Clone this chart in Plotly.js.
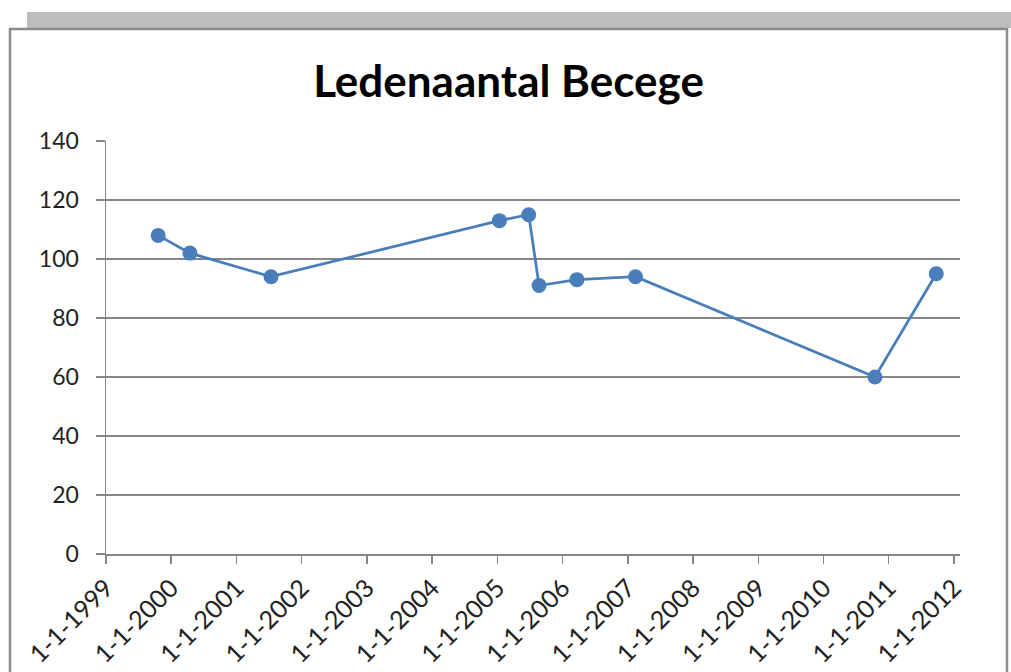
<!DOCTYPE html>
<html>
<head>
<meta charset="utf-8">
<script src="https://cdn.plot.ly/plotly-3.0.1.min.js"></script>
<style>
html,body{margin:0;padding:0;background:#fff;}
#chart{width:1011px;height:672px;}
</style>
</head>
<body>
<div id="chart"></div>
<script>
// Data
const dates = ['1999-10-20','2000-04-15','2001-07-13','2005-01-12','2005-06-25','2005-08-22','2006-03-22','2007-02-13','2010-10-16','2011-09-24'];
const members = [108, 102, 94, 113, 115, 91, 93, 94, 60, 95];
const tickYears = [1999,2000,2001,2002,2003,2004,2005,2006,2007,2008,2009,2010,2011,2012];
const tickDates = tickYears.map(y => y + '-01-01');
const tickLabels = tickYears.map(y => '1-1-' + y);
const yTicks = [0,20,40,60,80,100,120,140];

const W = 1011, H = 672;
const L = 106, R = 51, T = 141, B = 118;
const pw = W - L - R, ph = H - T - B;
const px = v => (v - L) / pw;
const py = v => (H - B - v) / ph;

const trace = {
  x: dates, y: members, type: 'scatter', mode: 'lines+markers',
  line: {color: '#4A7EBB', width: 2.75},
  marker: {color: '#4A7EBB', size: 15},
  hoverinfo: 'x+y', showlegend: false
};

const layout = {
  width: W, height: H,
  margin: {l: L, r: R, t: T, b: B, pad: 0},
  paper_bgcolor: '#fff', plot_bgcolor: 'rgba(0,0,0,0)',
  title: {text: '<b>Ledenaantal Becege</b>', font: {family: 'Lato, sans-serif', size: 44, color: '#000'},
          x: 0.503, xanchor: 'center', y: 1 - 82/H, yanchor: 'middle'},
  font: {family: 'Lato, sans-serif', size: 22, color: '#222'},
  xaxis: {
    type: 'date', range: ['1999-01-01', '2012-02-04'],
    tickvals: tickDates, ticktext: tickLabels, tickangle: -45,
    ticks: 'outside', ticklen: 8, tickcolor: '#868686', tickwidth: 1.5,
    showline: true, linecolor: '#868686', linewidth: 1.5,
    showgrid: false, zeroline: false, fixedrange: true,
    tickfont: {family: 'Lato, sans-serif', size: 25, color: '#222'}
  },
  yaxis: {
    range: [0, 140], tickvals: yTicks, ticktext: yTicks.map(String),
    ticks: 'outside', ticklen: 9, tickcolor: '#868686', tickwidth: 1.5,
    showline: true, linecolor: '#868686', linewidth: 1.5,
    showgrid: true, gridcolor: '#868686', gridwidth: 1.5,
    zeroline: false, fixedrange: true, ticklabelstandoff: 12,
    tickfont: {family: 'Lato, sans-serif', size: 23, color: '#222'}
  },
  shapes: [
    {type: 'rect', xref: 'paper', yref: 'paper', layer: 'below',
     x0: px(27), x1: px(1011), y0: py(12), y1: py(28),
     fillcolor: '#bdbdbd', line: {width: 0}},
    {type: 'rect', xref: 'paper', yref: 'paper', layer: 'below',
     x0: px(10), x1: px(1007), y0: py(29), y1: py(680),
     fillcolor: 'rgba(0,0,0,0)', line: {color: '#8c8c8c', width: 2.5}}
  ]
};

Plotly.newPlot('chart', [trace], layout, {displayModeBar: false, staticPlot: true});
</script>
</body>
</html>
